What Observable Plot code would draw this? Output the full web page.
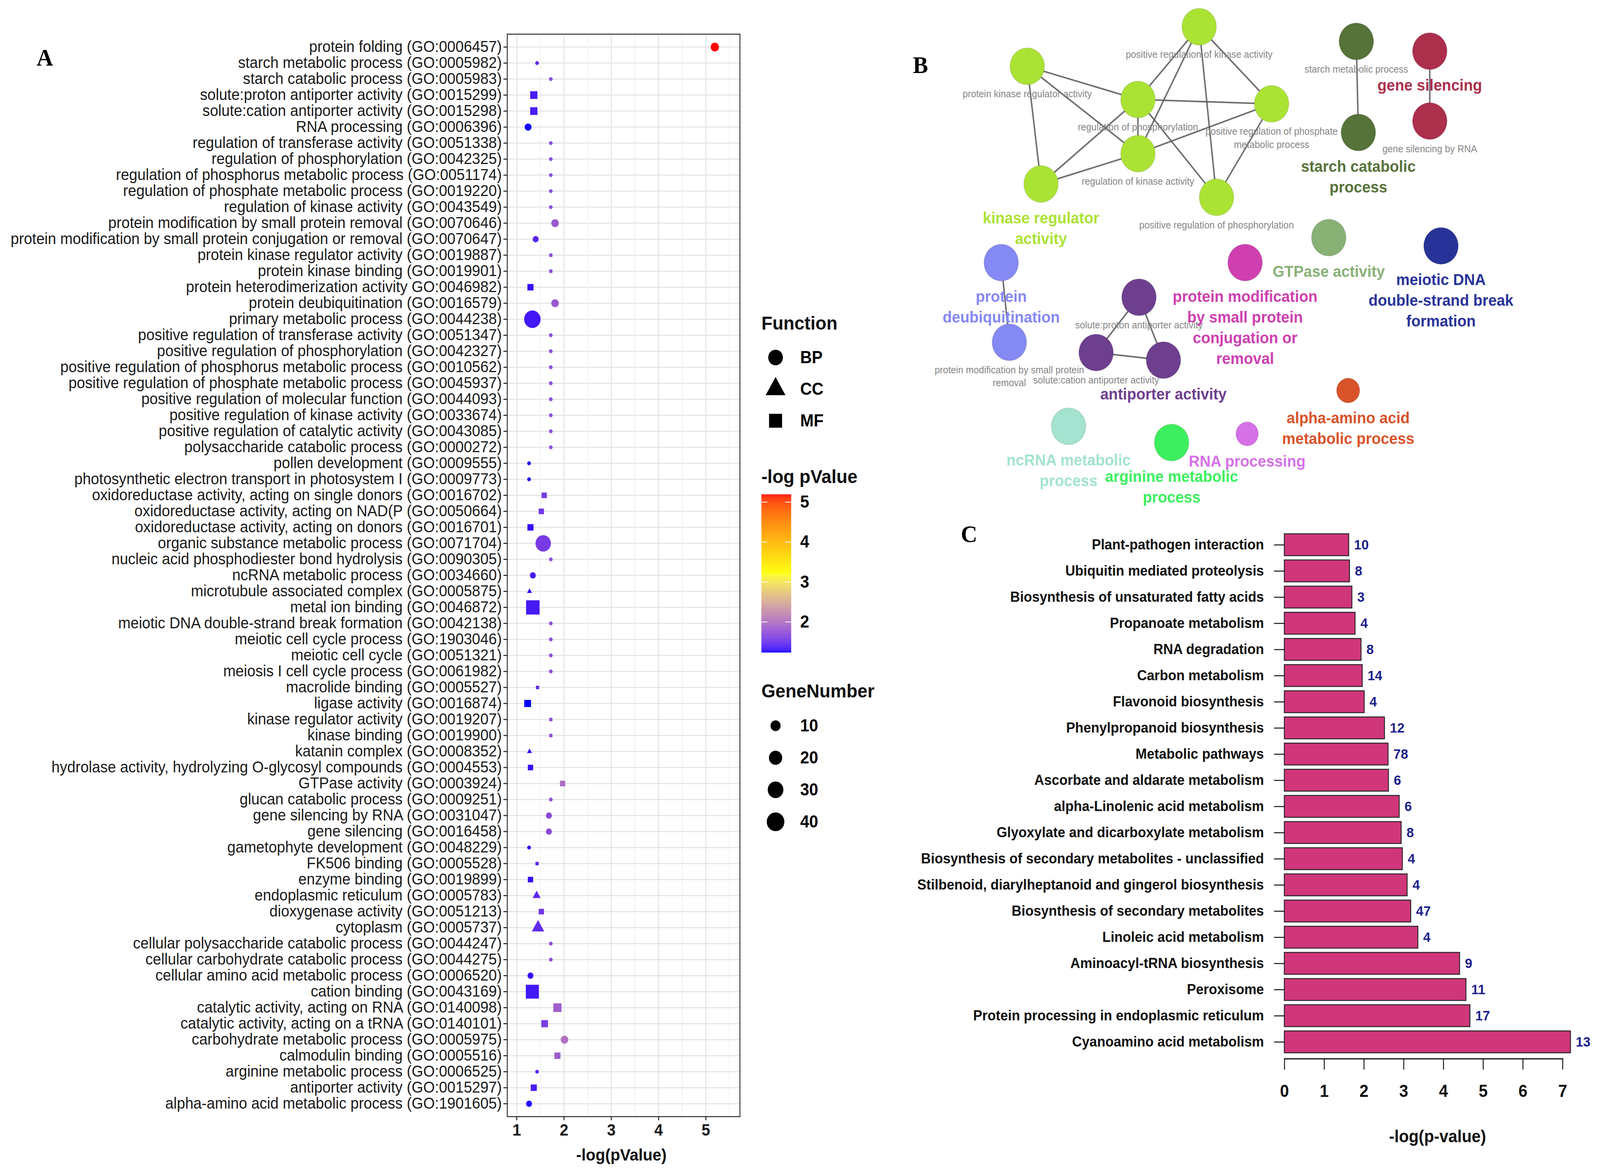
<!DOCTYPE html>
<html>
<head>
<meta charset="utf-8">
<script src="https://cdn.jsdelivr.net/npm/d3@7"></script>
<script src="https://cdn.jsdelivr.net/npm/@observablehq/plot@0.6"></script>
<style>
  html, body { margin: 0; padding: 0; background: #fff; overflow: hidden; }
  #wrap { position: relative; overflow: hidden; background: #fff; }
  #fig { position: absolute; left: 0; top: 0; width: 4354px; height: 3009px; background: #fff; overflow: hidden;
         font-family: "Liberation Sans", Arial, sans-serif; transform-origin: 0 0; }
  #fig > svg, #fig > figure { position: absolute; margin: 0; }
  .tag { position: absolute; font-family: "Liberation Serif", "Times New Roman", serif; font-weight: bold;
         font-size: 62px; line-height: 1; transform: translate(-50%, -50%); color: #000; }
  .ttl { position: absolute; font-weight: bold; line-height: 1; white-space: nowrap; color: #111; }
  .ctr { transform: translate(-50%, -50%); }
  .lft { transform: translate(0, -50%); }
</style>
</head>
<body>
<div id="wrap"><div id="fig"></div></div>
<script>
// ---------------- Panel A data (GO enrichment) ----------------
const goTerms = [
  "protein folding (GO:0006457)",
  "starch metabolic process (GO:0005982)",
  "starch catabolic process (GO:0005983)",
  "solute:proton antiporter activity (GO:0015299)",
  "solute:cation antiporter activity (GO:0015298)",
  "RNA processing (GO:0006396)",
  "regulation of transferase activity (GO:0051338)",
  "regulation of phosphorylation (GO:0042325)",
  "regulation of phosphorus metabolic process (GO:0051174)",
  "regulation of phosphate metabolic process (GO:0019220)",
  "regulation of kinase activity (GO:0043549)",
  "protein modification by small protein removal (GO:0070646)",
  "protein modification by small protein conjugation or removal (GO:0070647)",
  "protein kinase regulator activity (GO:0019887)",
  "protein kinase binding (GO:0019901)",
  "protein heterodimerization activity GO:0046982)",
  "protein deubiquitination (GO:0016579)",
  "primary metabolic process (GO:0044238)",
  "positive regulation of transferase activity (GO:0051347)",
  "positive regulation of phosphorylation (GO:0042327)",
  "positive regulation of phosphorus metabolic process (GO:0010562)",
  "positive regulation of phosphate metabolic process (GO:0045937)",
  "positive regulation of molecular function (GO:0044093)",
  "positive regulation of kinase activity (GO:0033674)",
  "positive regulation of catalytic activity (GO:0043085)",
  "polysaccharide catabolic process (GO:0000272)",
  "pollen development (GO:0009555)",
  "photosynthetic electron transport in photosystem I (GO:0009773)",
  "oxidoreductase activity, acting on single donors (GO:0016702)",
  "oxidoreductase activity, acting on NAD(P (GO:0050664)",
  "oxidoreductase activity, acting on donors (GO:0016701)",
  "organic substance metabolic process (GO:0071704)",
  "nucleic acid phosphodiester bond hydrolysis (GO:0090305)",
  "ncRNA metabolic process (GO:0034660)",
  "microtubule associated complex (GO:0005875)",
  "metal ion binding (GO:0046872)",
  "meiotic DNA double-strand break formation (GO:0042138)",
  "meiotic cell cycle process (GO:1903046)",
  "meiotic cell cycle (GO:0051321)",
  "meiosis I cell cycle process (GO:0061982)",
  "macrolide binding (GO:0005527)",
  "ligase activity (GO:0016874)",
  "kinase regulator activity (GO:0019207)",
  "kinase binding (GO:0019900)",
  "katanin complex (GO:0008352)",
  "hydrolase activity, hydrolyzing O-glycosyl compounds (GO:0004553)",
  "GTPase activity (GO:0003924)",
  "glucan catabolic process (GO:0009251)",
  "gene silencing by RNA (GO:0031047)",
  "gene silencing (GO:0016458)",
  "gametophyte development (GO:0048229)",
  "FK506 binding (GO:0005528)",
  "enzyme binding (GO:0019899)",
  "endoplasmic reticulum (GO:0005783)",
  "dioxygenase activity (GO:0051213)",
  "cytoplasm (GO:0005737)",
  "cellular polysaccharide catabolic process (GO:0044247)",
  "cellular carbohydrate catabolic process (GO:0044275)",
  "cellular amino acid metabolic process (GO:0006520)",
  "cation binding (GO:0043169)",
  "catalytic activity, acting on RNA (GO:0140098)",
  "catalytic activity, acting on a tRNA (GO:0140101)",
  "carbohydrate metabolic process (GO:0005975)",
  "calmodulin binding (GO:0005516)",
  "arginine metabolic process (GO:0006525)",
  "antiporter activity (GO:0015297)",
  "alpha-amino acid metabolic process (GO:1901605)"
];
const goFunction = [
  "BP","BP","BP","MF","MF","BP","BP","BP","BP","BP","BP","BP","BP","MF","MF","MF","BP","BP",
  "BP","BP","BP","BP","BP","BP","BP","BP","BP","BP","MF","MF","MF","BP","BP","BP","CC","MF",
  "BP","BP","BP","BP","MF","MF","MF","MF","CC","MF","MF","BP","BP","BP","BP","MF","MF","CC",
  "MF","CC","BP","BP","BP","MF","MF","MF","BP","MF","BP","MF","BP"
];
const goLogP = [
  5.19,1.43,1.72,1.36,1.36,1.24,1.72,1.72,1.72,1.72,1.72,1.81,1.40,1.72,1.72,1.29,1.81,1.33,
  1.72,1.72,1.72,1.72,1.72,1.72,1.72,1.72,1.26,1.26,1.58,1.52,1.29,1.56,1.72,1.34,1.27,1.34,
  1.72,1.72,1.72,1.72,1.44,1.23,1.72,1.72,1.27,1.29,1.97,1.72,1.68,1.68,1.26,1.43,1.29,1.42,
  1.52,1.45,1.72,1.72,1.29,1.33,1.86,1.59,2.01,1.86,1.43,1.36,1.26
];
const goGenes = [
  6,2,2,6,6,4,2,2,2,2,2,5,3,2,2,4,5,34,
  2,2,2,2,2,2,2,2,2,2,3,3,4,29,2,3,2,28,
  2,2,2,2,2,5,2,2,2,3,3,2,3,3,2,2,3,3,
  3,8,2,2,3,26,8,5,5,4,2,4,3
];
const functionKeys = ["BP","CC","MF"];
const geneKeys = [10,20,30,40];
const colorTicks = [2,3,4,5];

// ---------------- Panel B data (network) ----------------
const nodeIds = ["posRegKinase","pkra","regPhos","posRegPhosphate","regKinase","kra","posRegPhosphorylation",
  "starchMet","starchCat","geneSil","geneSilRNA","gtpase","meiotic","protModConj","deubiq","protModRemoval",
  "soluteProton","soluteCation","antiporter","alphaAmino","ncRNA","arginine","rnaProc"];
const nodeCluster = ["kinase regulator activity","kinase regulator activity","kinase regulator activity",
  "kinase regulator activity","kinase regulator activity","kinase regulator activity","kinase regulator activity",
  "starch catabolic process","starch catabolic process","gene silencing","gene silencing","GTPase activity",
  "meiotic DNA double-strand break formation","protein modification by small protein conjugation or removal",
  "protein deubiquitination","protein deubiquitination","antiporter activity","antiporter activity","antiporter activity",
  "alpha-amino acid metabolic process","ncRNA metabolic process","arginine metabolic process","RNA processing"];
// network layout (layout units)
const nodeLayoutX = [1175,1006.5,1115,1246,1115,1020,1192,1329,1331,1401,1401,1302,1412,1220,981,989,1116,1074,1140,1321,1047,1148,1222];
const nodeLayoutY = [24.5,61,91.6,95.6,141.5,169.5,181.8,38,122,47,111.5,219,226.6,242,242,315.5,274,325,332,360,393,408,400];
const nodeSize = [1,1,1,1,1,1,1,1,1,1,1,1,1,1,1,1,1,1,1,0.67,1,1,0.65];
const nodeTermLabel = ["positive regulation of kinase activity","protein kinase regulator activity","regulation of phosphorylation",
  "positive regulation of phosphate\nmetabolic process","regulation of kinase activity","","positive regulation of phosphorylation",
  "starch metabolic process","","","gene silencing by RNA","","","","","protein modification by small protein\nremoval",
  "solute:proton antiporter activity","solute:cation antiporter activity","","","","",""];
const nodeClusterLabel = ["","","","","","kinase regulator\nactivity","","","starch catabolic\nprocess","gene silencing","",
  "GTPase activity","meiotic DNA\ndouble-strand break\nformation","protein modification\nby small protein\nconjugation or\nremoval",
  "protein\ndeubiquitination","","","","antiporter activity","alpha-amino acid\nmetabolic process","ncRNA metabolic\nprocess",
  "arginine metabolic\nprocess","RNA processing"];
const edgeList = [
  ["pkra","regPhos"],["pkra","kra"],["pkra","regKinase"],["kra","regPhos"],["kra","regKinase"],
  ["posRegKinase","regPhos"],["posRegKinase","regKinase"],["posRegKinase","posRegPhosphate"],["posRegKinase","posRegPhosphorylation"],
  ["regPhos","posRegPhosphate"],["regPhos","regKinase"],["regPhos","posRegPhosphorylation"],["regKinase","posRegPhosphate"],
  ["posRegPhosphate","posRegPhosphorylation"],
  ["starchMet","starchCat"],["geneSil","geneSilRNA"],["deubiq","protModRemoval"],
  ["soluteProton","soluteCation"],["soluteProton","antiporter"],["soluteCation","antiporter"]
];
const clusterNames = ["kinase regulator activity","starch catabolic process","gene silencing","GTPase activity",
  "meiotic DNA double-strand break formation","protein modification by small protein conjugation or removal",
  "protein deubiquitination","antiporter activity","alpha-amino acid metabolic process","ncRNA metabolic process",
  "arginine metabolic process","RNA processing"];
const clusterColors = ["#abe334","#56733a","#ac2f4c","#88b176","#283399","#cf3fb0","#8589f4","#6e3f8e","#d9532a","#a3e3cf","#3cef5e","#d671e8"];

// ---------------- Panel C data (KEGG) ----------------
const keggPathways = ["Plant-pathogen interaction","Ubiquitin mediated proteolysis","Biosynthesis of unsaturated fatty acids",
  "Propanoate metabolism","RNA degradation","Carbon metabolism","Flavonoid biosynthesis","Phenylpropanoid biosynthesis",
  "Metabolic pathways","Ascorbate and aldarate metabolism","alpha-Linolenic acid metabolism","Glyoxylate and dicarboxylate metabolism",
  "Biosynthesis of secondary metabolites - unclassified","Stilbenoid, diarylheptanoid and gingerol biosynthesis",
  "Biosynthesis of secondary metabolites","Linoleic acid metabolism","Aminoacyl-tRNA biosynthesis","Peroxisome",
  "Protein processing in endoplasmic reticulum","Cyanoamino acid metabolism"];
const keggLogP = [1.62,1.64,1.70,1.78,1.93,1.96,2.01,2.52,2.61,2.62,2.89,2.94,2.97,3.09,3.18,3.36,4.41,4.57,4.67,7.20];
const keggGenes = [10,8,3,4,8,14,4,12,78,6,6,8,4,4,47,4,9,11,17,13];

// ---------------- build ----------------
const FIG_W = 4354, FIG_H = 3009;
const wrap = document.getElementById("wrap");
const fig = document.getElementById("fig");
function fit() {
  const w = document.documentElement.clientWidth || window.innerWidth || FIG_W;
  const h = window.innerHeight || document.documentElement.clientHeight || FIG_H;
  const sx = w / FIG_W, sy = h / FIG_H;
  fig.style.transform = (Math.abs(sx - 1) > 0.001 || Math.abs(sy - 1) > 0.001) ? `scale(${sx}, ${sy})` : "";
  wrap.style.width = w + "px";
  wrap.style.height = h + "px";
}
fit();
window.addEventListener("resize", fit);

const FONT = "Liberation Sans, Arial, sans-serif";
function place(el, left, top) { el.style.left = left + "px"; el.style.top = top + "px"; fig.appendChild(el); return el; }
function html(cls, text, left, top, extra) {
  const d = document.createElement("div"); d.className = cls; d.textContent = text;
  Object.assign(d.style, extra || {}); return place(d, left, top);
}

const goData = goTerms.map((t, i) => ({term: t, fn: goFunction[i], lp: goLogP[i], genes: goGenes[i]}));
const cMin = d3.min(goLogP), cMax = d3.max(goLogP);
const colorOpts = {type: "linear", domain: [cMin, (cMin + cMax) / 2, cMax], range: ["#0000ff", "#ffff00", "#ff0000"], interpolate: d3.interpolateLab};
const gMin = 2;
const rOpts = {type: "sqrt", domain: [0, 38], range: [5, 24]};
const symOpts = {domain: functionKeys, range: ["circle", "triangle", "square"]};

// Panel A
const plotA = Plot.plot({
  width: 2040, height: 3009,
  marginLeft: 1380, marginRight: 27, marginTop: 87, marginBottom: 150,
  style: {fontFamily: FONT, background: "transparent", overflow: "visible"},
  x: {domain: [0.80, 5.72]},
  y: {type: "point", domain: goTerms, padding: 0.6},
  color: colorOpts, r: rOpts, symbol: symOpts,
  marks: [
    Plot.gridY({stroke: "#e6e6e6", strokeOpacity: 1, strokeWidth: 3}),
    Plot.gridX({ticks: [1.5, 2.5, 3.5, 4.5, 5.5], stroke: "#efefef", strokeOpacity: 1, strokeWidth: 2}),
    Plot.gridX({ticks: [1, 2, 3, 4, 5], stroke: "#e6e6e6", strokeOpacity: 1, strokeWidth: 3}),
    Plot.frame({stroke: "#4d4d4d", strokeWidth: 3}),
    Plot.dot(goData, {x: "lp", y: "term", r: d => d.genes - gMin, fill: "lp", symbol: "fn"}),
    Plot.axisY({tickSize: 10, tickPadding: 5, fontSize: 40.5, color: "#1a1a1a", strokeWidth: 2.5, label: null}),
    Plot.axisX({ticks: [1, 2, 3, 4, 5], tickSize: 10, tickPadding: 9, fontSize: 42, fontWeight: "bold", color: "#1a1a1a", strokeWidth: 2.5, label: null, tickFormat: d => String(d)})
  ]
});
place(plotA, 0, 0);
html("ttl ctr", "-log(pValue)", 1691, 2957, {fontSize: "43px"});

// Legend: Function
html("ttl lft", "Function", 2072, 827, {fontSize: "49px"});
const legShape = Plot.plot({
  width: 400, height: 245, marginLeft: 0, marginRight: 260, marginTop: 0, marginBottom: 0,
  style: {fontFamily: FONT, background: "transparent", overflow: "visible"},
  y: {type: "point", domain: functionKeys, padding: 0.5, axis: null},
  symbol: symOpts,
  marks: [
    Plot.dot(functionKeys, {y: d => d, symbol: d => d, r: 20, fill: "#000"}),
    Plot.text(functionKeys, {y: d => d, text: d => d, dx: 67, textAnchor: "start", fontSize: 44, fontWeight: "bold", fill: "#000"})
  ]
});
place(legShape, 2040, 873);

// Legend: colour bar
html("ttl lft", "-log pValue", 2072, 1220, {fontSize: "49px"});
const barStep = (cMax - cMin) / 240;
const barCells = d3.range(240).map(i => cMin + i * barStep);
const legColor = Plot.plot({
  width: 200, height: 445, marginLeft: 0, marginRight: 119, marginTop: 20, marginBottom: 20,
  style: {fontFamily: FONT, background: "transparent", overflow: "visible"},
  x: {domain: [0, 1], axis: null},
  y: {domain: [cMin, cMax]},
  color: colorOpts,
  marks: [
    Plot.rect(barCells, {x1: 0, x2: 1, y1: d => d, y2: d => d + barStep * 1.05, fill: d => d}),
    Plot.ruleY(colorTicks, {x1: 0, x2: 0.2, stroke: "white", strokeWidth: 2}),
    Plot.ruleY(colorTicks, {x1: 0.8, x2: 1, stroke: "white", strokeWidth: 2}),
    Plot.axisY({anchor: "right", ticks: colorTicks, tickSize: 0, tickPadding: 24, fontSize: 44, fontWeight: "bold", color: "#000", label: null, tickFormat: d => String(d)})
  ]
});
place(legColor, 2072, 1246);

// Legend: gene number
html("ttl lft", "GeneNumber", 2072, 1769, {fontSize: "49px"});
const legSize = Plot.plot({
  width: 400, height: 328, marginLeft: 0, marginRight: 260, marginTop: 0, marginBottom: 0,
  style: {fontFamily: FONT, background: "transparent", overflow: "visible"},
  y: {type: "point", domain: geneKeys, padding: 0.5, axis: null},
  r: rOpts,
  marks: [
    Plot.dot(geneKeys, {y: d => d, r: d => d - gMin, fill: "#000"}),
    Plot.text(geneKeys, {y: d => d, text: d => String(d), dx: 67, textAnchor: "start", fontSize: 44, fontWeight: "bold", fill: "#000"})
  ]
});
place(legSize, 2040, 1817);

// Panel B: network
const nodes = nodeIds.map((id, i) => ({id, cluster: nodeCluster[i], lx: nodeLayoutX[i], ly: nodeLayoutY[i], size: nodeSize[i],
  term: nodeTermLabel[i], clabel: nodeClusterLabel[i]}));
const byId = new Map(nodes.map(n => [n.id, n]));
const edges = edgeList.map(([a, b]) => ({a: byId.get(a), b: byId.get(b)}));
const plotB = Plot.plot({
  width: 1904, height: 1300, margin: 0,
  style: {fontFamily: FONT, background: "transparent", overflow: "visible"},
  x: {domain: [882.3, 1568], range: [0, 1904], axis: null},
  y: {domain: [0, 468.2], range: [0, 1300], axis: null},
  color: {domain: clusterNames, range: clusterColors},
  r: {type: "linear", domain: [0, 1], range: [0, 47]},
  marks: [
    Plot.link(edges, {x1: d => d.a.lx, y1: d => d.a.ly, x2: d => d.b.lx, y2: d => d.b.ly, stroke: "#555", strokeWidth: 4, strokeOpacity: 0.85}),
    Plot.dot(nodes, {x: "lx", y: "ly", r: "size", fill: "cluster", stroke: "#000", strokeOpacity: 0.08, strokeWidth: 3}),
    Plot.text(nodes.filter(n => n.term), {x: "lx", y: "ly", text: "term", dy: 56, lineAnchor: "top", lineHeight: 1.3, fontSize: 25.5, fill: "#858585"}),
    Plot.text(nodes.filter(n => n.clabel && n.size === 1), {x: "lx", y: "ly", text: "clabel", fill: "cluster", dy: 63, lineAnchor: "top", lineHeight: 1.29, fontSize: 41, fontWeight: "bold"}),
    Plot.text(nodes.filter(n => n.clabel && n.size < 1), {x: "lx", y: "ly", text: "clabel", fill: "cluster", dy: 46, lineAnchor: "top", lineHeight: 1.29, fontSize: 41, fontWeight: "bold"})
  ]
});
place(plotB, 2450, 0);

// Panel C: KEGG bars
const keggData = keggPathways.map((p, i) => ({path: p, lp: keggLogP[i], n: keggGenes[i]}));
const plotC = Plot.plot({
  width: 1904, height: 1709, marginLeft: 1045, marginRight: 102, marginTop: 52, marginBottom: 298,
  style: {fontFamily: FONT, background: "transparent", overflow: "visible"},
  x: {domain: [0, 7]},
  y: {type: "band", domain: keggPathways, paddingInner: 0.16, paddingOuter: 0.08},
  marks: [
    Plot.barX(keggData, {x: "lp", y: "path", fill: "#d0367a", stroke: "#262626", strokeWidth: 2.5}),
    Plot.text(keggData, {x: "lp", y: "path", text: d => String(d.n), dx: 14, textAnchor: "start", fill: "#1c1f8c", fontWeight: "bold", fontSize: 36}),
    Plot.axisY({tickSize: 28, tickPadding: 28, fontSize: 37, fontWeight: "bold", color: "#111", strokeWidth: 2.5, label: null}),
    Plot.axisX({ticks: d3.range(0, 8), tickSize: 28, tickPadding: 38, fontSize: 44, fontWeight: "bold", color: "#111", strokeWidth: 2.5, label: null, tickFormat: d => String(d)}),
    Plot.frame({anchor: "bottom", stroke: "#111", strokeWidth: 3})
  ]
});
place(plotC, 2450, 1300);
html("ttl ctr", "-log(p-value)", 3912, 2910, {fontSize: "44px"});

// Panel tags
html("tag", "A", 122, 147);
html("tag", "B", 2505, 166);
html("tag", "C", 2637, 1367);
</script>
</body>
</html>
